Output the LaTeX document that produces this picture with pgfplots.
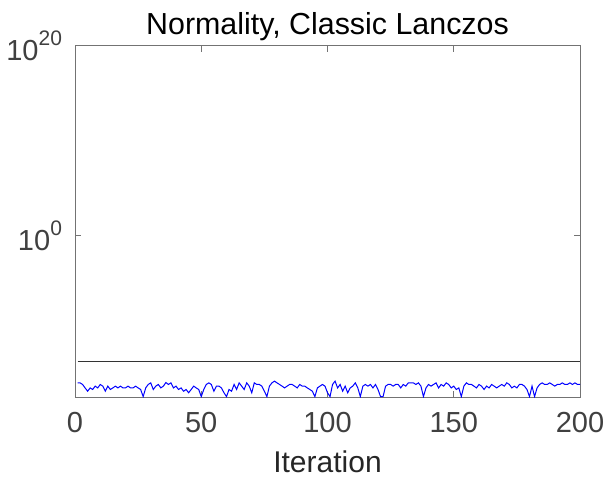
\documentclass[border=0pt]{standalone}
\usepackage{fontspec}
\setmainfont{Liberation Sans}
\usepackage{pgfplots}
\usepackage{pgfplotstable}
\pgfplotsset{compat=1.18}
\usetikzlibrary{calc}
\definecolor{mlblue}{rgb}{0,0,1}
\definecolor{mlaxis}{gray}{0.45}
\definecolor{mltext}{gray}{0.25}
\newcommand{\tenpow}[1]{10\raisebox{0.5em}{\fontsize{10.5}{12}\selectfont #1}}

% normality measure per iteration
\pgfplotstableread{
it val
1 3.1e-16
2 3.1e-16
3 2.1e-16
4 9.1e-17
5 4.1e-17
6 9.1e-17
7 6.2e-17
8 1.4e-16
9 9.1e-17
10 2.1e-16
11 1.4e-16
12 4.1e-17
13 1.4e-16
14 6.2e-17
15 9.1e-17
16 1.4e-16
17 9.1e-17
18 1.4e-16
19 9.1e-17
20 9.1e-17
21 1.4e-16
22 9.1e-17
23 9.1e-17
24 1.4e-16
25 9.1e-17
26 6.2e-17
27 1.1e-17
28 9.1e-17
29 2.1e-16
30 3.1e-16
31 6.2e-17
32 1.4e-16
33 2.1e-16
34 9.1e-17
35 1.4e-16
36 3.4e-16
37 2.1e-16
38 3.1e-16
39 9.1e-17
40 1.4e-16
41 6.2e-17
42 9.1e-17
43 4.1e-17
44 6.2e-17
45 2.8e-17
46 6.2e-17
47 1.4e-16
48 9.1e-17
49 6.2e-17
50 1.1e-17
51 6.2e-17
52 2.1e-16
53 3.1e-16
54 2.1e-16
55 4.1e-17
56 1.4e-16
57 1.4e-16
58 9.1e-17
59 2.8e-17
60 1.1e-17
61 6.2e-17
62 4.1e-17
63 2.1e-16
64 6.2e-17
65 3.1e-16
66 1.4e-16
67 6.2e-17
68 3.1e-16
69 1.4e-16
70 2.8e-17
71 3.1e-16
72 2.1e-16
73 2.1e-16
74 1.4e-16
75 4.1e-17
76 1.1e-17
77 1.4e-16
78 3.1e-16
79 4.7e-16
80 3.1e-16
81 2.1e-16
82 1.4e-16
83 9.1e-17
84 1.4e-16
85 2.1e-16
86 2.1e-16
87 1.4e-16
88 9.1e-17
89 2.1e-16
90 1.4e-16
91 1.4e-16
92 9.1e-17
93 6.2e-17
94 4.1e-17
95 1.1e-17
96 9.1e-17
97 1.4e-16
98 2.1e-16
99 1.4e-16
100 2.8e-17
101 1.1e-17
102 2.1e-16
103 4.7e-16
104 9.1e-17
105 2.1e-16
106 4.1e-17
107 1.4e-16
108 2.8e-17
109 9.1e-17
110 1.4e-16
111 3.1e-16
112 9.1e-17
113 1.1e-17
114 1.4e-16
115 2.1e-16
116 1.4e-16
117 2.1e-16
118 9.1e-17
119 2.1e-16
120 6.2e-17
121 1.1e-17
122 1.1e-17
123 1.4e-16
124 2.1e-16
125 2.1e-16
126 1.4e-16
127 2.1e-16
128 2.1e-16
129 9.1e-17
130 2.1e-16
131 1.4e-16
132 3.1e-16
133 3.1e-16
134 3.1e-16
135 2.1e-16
136 3.1e-16
137 1.4e-16
138 1.1e-17
139 9.1e-17
140 2.1e-16
141 1.4e-16
142 2.1e-16
143 3.1e-16
144 9.1e-17
145 2.1e-16
146 1.4e-16
147 3.1e-16
148 2.1e-16
149 9.1e-17
150 1.4e-16
151 6.2e-17
152 9.1e-17
153 1.1e-17
154 1.4e-16
155 3.1e-16
156 2.1e-16
157 2.1e-16
158 1.4e-16
159 9.1e-17
160 2.1e-16
161 1.4e-16
162 6.2e-17
163 1.4e-16
164 9.1e-17
165 2.1e-16
166 1.4e-16
167 9.1e-17
168 1.4e-16
169 2.1e-16
170 1.4e-16
171 3.1e-16
172 2.1e-16
173 9.1e-17
174 1.4e-16
175 9.1e-17
176 2.1e-16
177 2.1e-16
178 1.4e-16
179 6.2e-17
180 1.1e-17
181 1.4e-16
182 1.1e-17
183 9.1e-17
184 2.1e-16
185 3.1e-16
186 2.1e-16
187 2.1e-16
188 3.1e-16
189 2.1e-16
190 1.4e-16
191 2.1e-16
192 2.1e-16
193 3.1e-16
194 2.1e-16
195 2.1e-16
196 3.1e-16
197 2.1e-16
198 3.1e-16
199 2.1e-16
200 2.1e-16
}\normdata

\begin{document}
\begin{tikzpicture}
\begin{axis}[
  name=ax,
  scale only axis,
  width=252.5pt, height=175.5pt,
  ymode=log,
  xmin=0, xmax=200, ymin=1e-17, ymax=1e20,
  xtick={0,50,100,150,200},
  xticklabels={0,50,100,150,200},
  ytick={1,1e20},
  yticklabels={\tenpow{0},\tenpow{20}},
  yminorticks=false,
  tick align=inside,
  major tick length=3pt,
  axis line style={mlaxis, line width=0.5pt},
  tick style={mlaxis, line width=0.5pt},
  tick label style={font=\fontsize{14.5}{17}\selectfont, text=mltext},
  xticklabel style={yshift=-4pt},
  yticklabel style={xshift=-3pt},
  xlabel={Iteration},
  xlabel style={font=\fontsize{15}{17}\selectfont, text=black!85, yshift=-2pt},
]
\addplot[black!80, line width=0.5pt] coordinates {(1,5e-14) (200,5e-14)};
\addplot[mlblue, line width=0.5pt] table[x=it, y=val] {\normdata};
\end{axis}
\node[anchor=base, inner sep=0pt, font=\fontsize{15.2}{17}\selectfont]
  at ($(ax.north)+(0,5.5pt)$) {Normality, Classic Lanczos};
\pgfresetboundingbox
\path[use as bounding box] ($(ax.south west)+(-37.5pt,-39.5pt)$) rectangle ($(ax.north east)+(11.5pt,23pt)$);
\end{tikzpicture}
\end{document}
